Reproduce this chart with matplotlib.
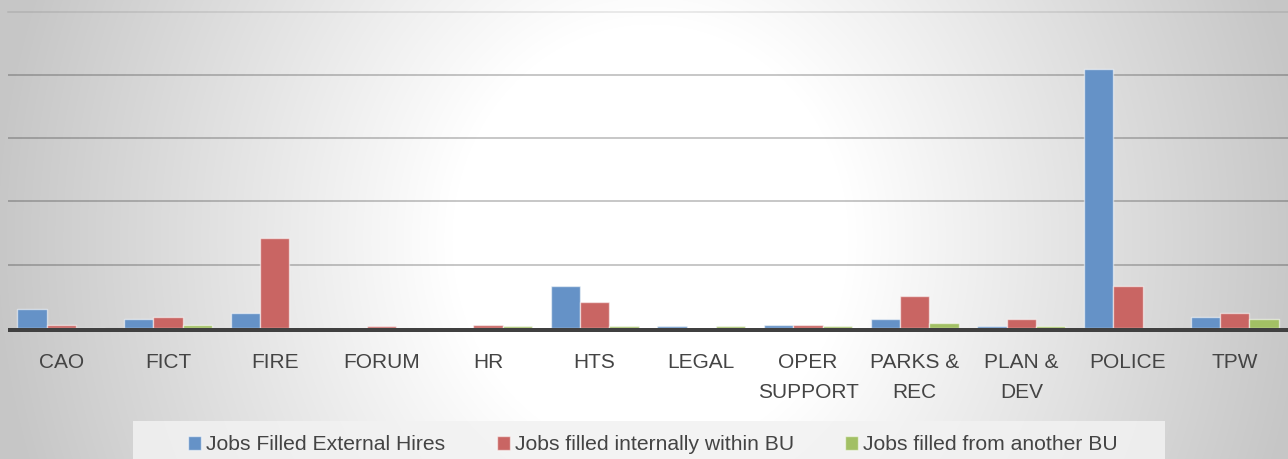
import numpy as np
import matplotlib
matplotlib.use('Agg')
import matplotlib.pyplot as plt
from matplotlib.patches import Rectangle

# business units and job counts
units = ['CAO', 'FICT', 'FIRE', 'FORUM', 'HR', 'HTS', 'LEGAL', 'OPER\nSUPPORT',
         'PARKS &\nREC', 'PLAN &\nDEV', 'POLICE', 'TPW']
external = [15, 7, 11.5, 0, 0, 33, 1, 2, 7, 1, 205, 8.5]
internal = [2, 8.5, 71, 1, 2, 20, 0, 2, 25, 7, 33, 11.5]
other_bu = [0, 2, 0, 0, 1, 1, 1, 1, 3.5, 1, 0, 7]
series_names = ['Jobs Filled External Hires', 'Jobs filled internally within BU',
                'Jobs filled from another BU']

colors = ['#6592c7', '#c96563', '#a2c064']

plt.rcParams['font.family'] = ['Liberation Sans', 'DejaVu Sans']

W, H = 1288, 459
fig = plt.figure(figsize=(W / 100, H / 100), dpi=100)

# radial grey-to-white background
bg = fig.add_axes([0, 0, 1, 1], zorder=-1)
yy, xx = np.mgrid[0:H, 0:W]
d = np.sqrt(((xx - 650) / 660.0) ** 2 + ((yy - 240) / 720.0) ** 2)
t = np.clip((d - 0.3) / 0.7, 0, 1)
shade = 1.0 - t * (255 - 198) / 255.0
bg.imshow(np.dstack([shade] * 3), aspect='auto', extent=(0, W, H, 0))
bg.axis('off')

ax = fig.add_axes([8 / W, 1 - 332 / H, 1280 / W, 320 / H])
ax.patch.set_alpha(0)

x = np.arange(len(units))
bw = 0.275
for i, (vals, c) in enumerate(zip([external, internal, other_bu], colors)):
    ax.bar(x + (i - 1) * bw, vals, bw, color=c, edgecolor=(1, 1, 1, 0.55),
           linewidth=1.0, label=series_names[i], zorder=3)

ax.set_xlim(-0.5, len(units) - 0.5)
ax.set_ylim(-3.4, 250)
ax.axhspan(-3.4, 0, color='#404040', zorder=4, lw=0)

ax.set_yticks([50, 100, 150, 200])
ax.yaxis.grid(True, color='black', alpha=0.28, linewidth=1.1, zorder=1)
ax.tick_params(axis='y', left=False, labelleft=False)
for s in ['left', 'right', 'bottom']:
    ax.spines[s].set_visible(False)
ax.spines['top'].set_color((0, 0, 0, 0.1))
ax.spines['top'].set_linewidth(1.1)

ax.set_xticks(x)
ax.set_xticklabels(units, fontsize=15, color='#444444', linespacing=1.75)
ax.tick_params(axis='x', length=0, pad=15)

# legend box
fig.patches.append(Rectangle((133 / W, 0), (1165 - 133) / W, 38 / H,
                             transform=fig.transFigure, facecolor='#f2f2f2',
                             alpha=0.85, edgecolor='none', zorder=0))
fig.legend(loc='center', bbox_to_anchor=(653 / W, 1 - 445 / H), ncol=3,
           frameon=False, fontsize=15.2, labelcolor='#444444',
           handlelength=0.62, handleheight=0.62, handletextpad=0.22,
           columnspacing=2.45, borderpad=0)

fig.savefig('out.png', dpi=100)
